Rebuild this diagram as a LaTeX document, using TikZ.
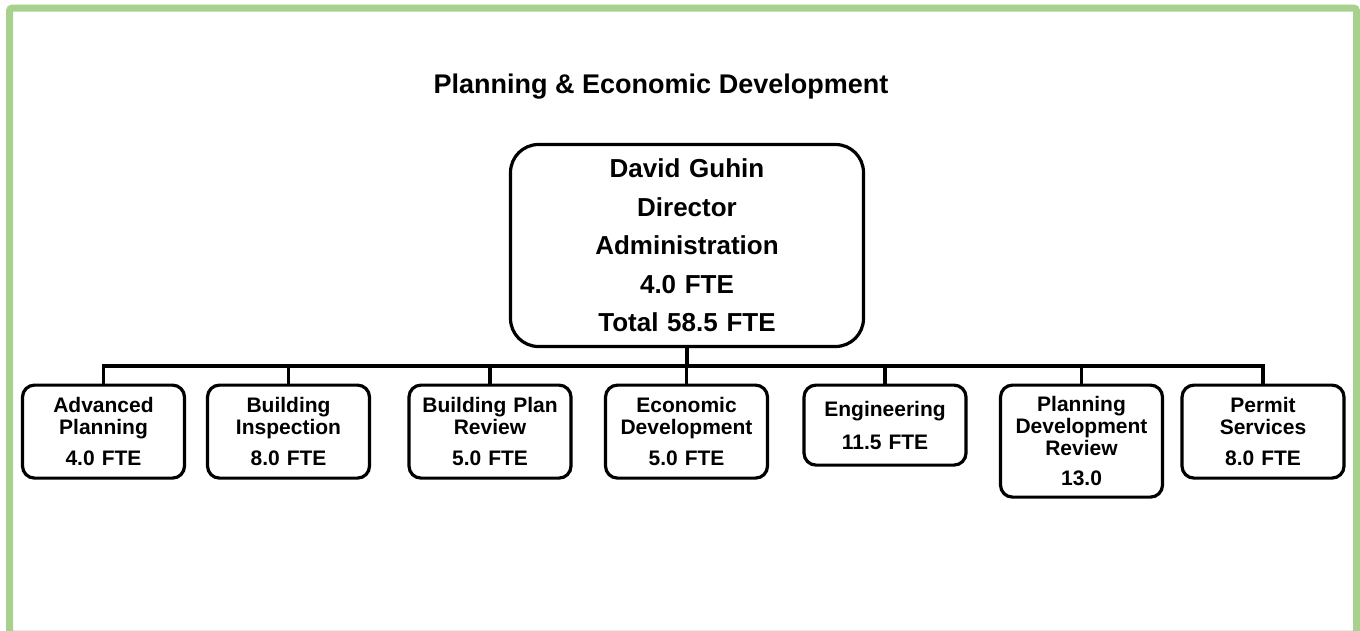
\documentclass[tikz,border=0pt]{standalone}
\usepackage{fontspec}
\setmainfont{Liberation Sans}
\definecolor{framegreen}{HTML}{A9D18E}
\begin{document}
\begin{tikzpicture}[x=1pt,y=-1pt,
  box/.style={draw=black, line width=3.2pt, rounded corners=12pt, fill=white, align=center,
    font=\fontsize{21}{22}\selectfont\bfseries, text width=158pt, minimum width=162pt,
    inner sep=0pt, anchor=north},
  topbox/.style={draw=black, line width=3.2pt, rounded corners=28pt, fill=white, align=center,
    font=\fontsize{26}{38.5}\selectfont\bfseries, text width=340pt, minimum width=353pt,
    minimum height=202pt, inner sep=0pt},
  link/.style={draw=black, line width=3.2pt},
  titlestyle/.style={font=\fontsize{27}{30}\selectfont\bfseries, anchor=base, inner sep=0pt}]
\useasboundingbox (0,0) rectangle (1360,630);
\fill[white] (0,0) rectangle (1360,630);
\draw[framegreen, line width=7pt, rounded corners=3pt] (9.5,8) rectangle (1356.5,634);

\node[titlestyle] (title) at (661,93) {Planning \& Economic Development};

\node[topbox] (top) at (687,245.5) {David Guhin\\Director\\Administration\\4.0 FTE\\Total 58.5 FTE};

\node[box, minimum height=93pt] (c1) at (103.5,383.5) {Advanced\\Planning\\[9pt]4.0 FTE};
\node[box, minimum height=93pt] (c2) at (288.5,383.5) {Building\\Inspection\\[9pt]8.0 FTE};
\node[box, minimum height=93pt] (c3) at (490,383.5) {Building Plan\\Review\\[9pt]5.0 FTE};
\node[box, minimum height=93pt] (c4) at (686.5,383.5) {Economic\\Development\\[9pt]5.0 FTE};
\node[box, minimum height=80pt] (c5) at (885,383.5) {Engineering\\[11pt]11.5 FTE};
\node[box, minimum height=112pt] (c6) at (1081.5,383.5) {Planning\\Development\\Review\\[8pt]13.0};
\node[box, minimum height=93pt] (c7) at (1263,383.5) {Permit\\Services\\[9pt]8.0 FTE};

\coordinate (bar) at (687,366);
\draw[link] (c1.north) |- (bar) -| (c7.north);
\draw[link] (top.south) -- (top.south |- bar);
\foreach \c in {c2,c3,c4,c5,c6}
  \draw[link] (\c.north) -- (\c.north |- bar);
\end{tikzpicture}
\end{document}
